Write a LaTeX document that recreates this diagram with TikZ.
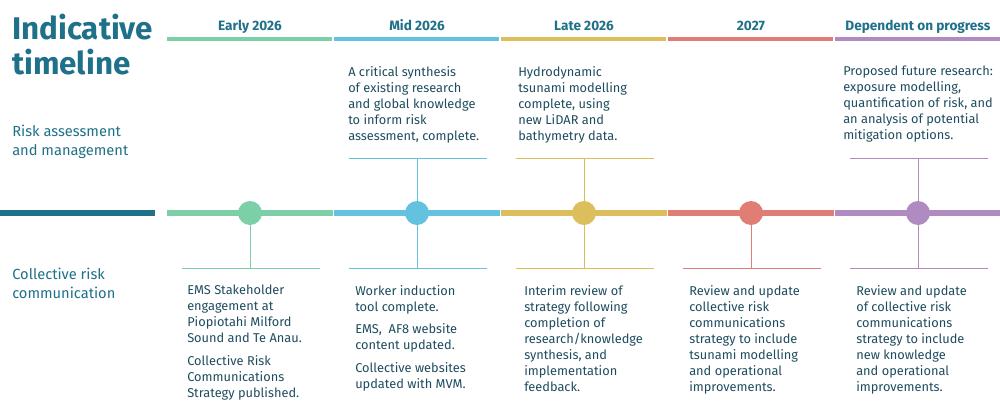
\documentclass[tikz,border=0pt]{standalone}
\usepackage{fontspec}
\setmainfont{Fira Sans}
\usetikzlibrary{positioning}
\definecolor{teal}{HTML}{1F7089}
\definecolor{cgreen}{HTML}{7DCFA8}
\definecolor{cblue}{HTML}{62C2DF}
\definecolor{cyellow}{HTML}{DCBF5C}
\definecolor{cred}{HTML}{E07E76}
\definecolor{cpurple}{HTML}{B08BC2}
\definecolor{txt}{HTML}{1E4C5E}
\begin{document}
\begin{tikzpicture}[x=0.75pt,y=-0.75pt]
	\tikzstyle{head} = [font=\fontsize{10.2}{11}\selectfont\bfseries, text=teal, anchor=base]
	\tikzstyle{side} = [font=\fontsize{11}{14}\selectfont, text=teal, align=left, anchor=north west, inner sep=0pt]
	\tikzstyle{note} = [font=\fontsize{9.6}{12}\selectfont, text=txt, align=left, anchor=north west, inner sep=0pt]
	\tikzstyle{dot} = [circle, minimum size=18pt, inner sep=0pt]
	\tikzstyle{stem} = [line width=0.75pt]

	\useasboundingbox (0,0) rectangle (1000,418);

	% title and row labels
	\node[side, font=\fontsize{23.5}{26}\selectfont\bfseries] (title) at (12,14) {Indicative\\timeline};
	\node[side] (risk) at (12,125) {Risk assessment\\and management};
	\node[side] (comm) at (12,268) {Collective risk\\communication};
	\draw[teal, line width=4pt] (0,213) -- (155,213);

	% columns
	\foreach \c/\x/\h in {cgreen/167/Early 2026, cblue/334/Mid 2026, cyellow/501/Late 2026, cred/668/2027, cpurple/835/Dependent on progress}
	{
		\node[head] at (\x+83,30) {\h};
		\draw[\c, line width=2.5pt] (\x,39) -- (\x+165,39);
		\draw[\c, line width=4pt] (\x,213) -- (\x+166,213);
		\node[dot, fill=\c] at (\x+83,213) {};
		\draw[\c, stem] (\x+83,213) -- (\x+83,268);
		\draw[\c, stem] (\x+15,268) -- (\x+153,268);
	}
	% upper stems
	\foreach \c/\x in {cblue/334, cyellow/501, cpurple/835}
	{
		\draw[\c, stem] (\x+83,213) -- (\x+83,158);
		\draw[\c, stem] (\x+15,158) -- (\x+153,158);
	}

	% upper notes
	\node[note] (synth) at (348,66) {A critical synthesis\\of existing research\\and global knowledge\\to inform risk\\assessment, complete.};
	\node[note] (hydro) at (518,66) {Hydrodynamic\\tsunami modelling\\complete, using\\new LiDAR and\\bathymetry data.};
	\node[note] (future) at (843,66) {Proposed future research:\\exposure modelling,\\quantification of risk, and\\an analysis of potential\\mitigation options.};

	% lower notes
	\node[note] (ems) at (187,285) {EMS Stakeholder\\engagement at\\Piopiotahi Milford\\Sound and Te Anau.\\[5pt]Collective Risk\\Communications\\Strategy published.};
	\node[note] (worker) at (355,285) {Worker induction\\tool complete.\\[5pt]EMS,~ AF8 website\\content updated.\\[5pt]Collective websites\\updated with MVM.};
	\node[note] (interim) at (524,285) {Interim review of\\strategy following\\completion of\\research/knowledge\\synthesis, and\\implementation\\feedback.};
	\node[note] (review) at (689,285) {Review and update\\collective risk\\communications\\strategy to include\\tsunami modelling\\and operational\\improvements.};
	\node[note] (update) at (856,285) {Review and update\\of collective risk\\communications\\strategy to include\\new knowledge\\and operational\\improvements.};
\end{tikzpicture}
\end{document}
